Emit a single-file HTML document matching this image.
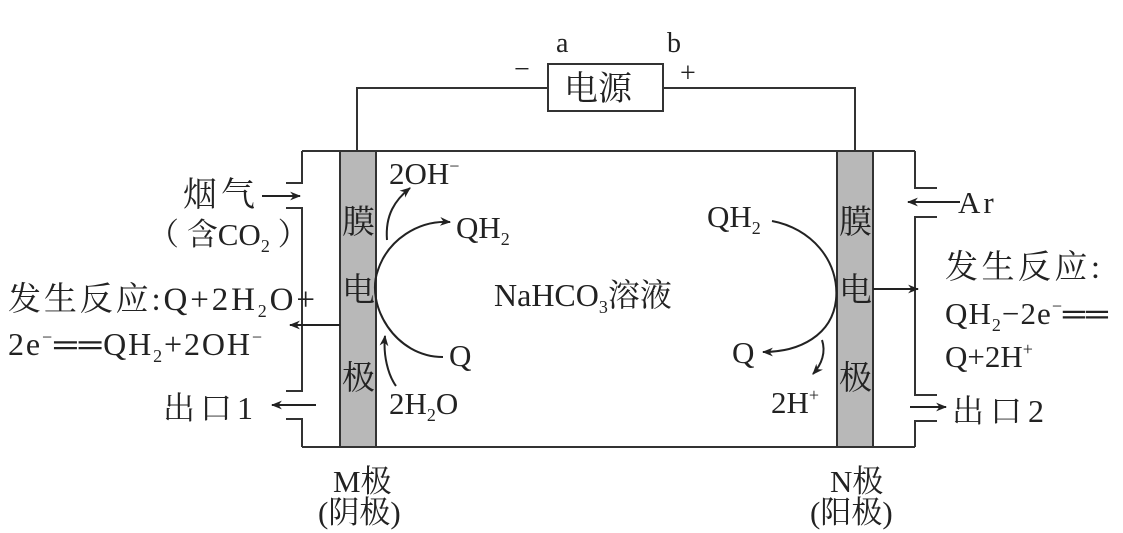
<!DOCTYPE html>
<html><head><meta charset="utf-8"><style>
html,body{margin:0;padding:0;background:#fff;}
svg{display:block;}
text{font-family:"Liberation Serif","Noto Serif CJK SC",serif;fill:#222;}
</style></head><body>
<svg width="1123" height="533" viewBox="0 0 1123 533" xmlns="http://www.w3.org/2000/svg">
<defs>
<marker id="ar" viewBox="0 0 10 10" refX="9" refY="5" markerWidth="11" markerHeight="11" orient="auto" markerUnits="userSpaceOnUse"><path d="M0,1 L10,5 L0,9 L3,5 z" fill="#222"/></marker>
</defs>
<g stroke="#333" stroke-width="2" fill="none">
<rect x="548" y="64" width="115" height="47"/>
<polyline points="357,151 357,88 548,88"/>
<polyline points="663,88 855,88 855,151"/>
<line x1="302" y1="151" x2="915" y2="151"/>
<line x1="302" y1="447" x2="915" y2="447"/>
<polyline points="286,183 302,183 302,151"/>
<polyline points="286,208 302,208 302,391 286,391"/>
<polyline points="286,419 302,419 302,447"/>
<polyline points="937,188 915,188 915,151"/>
<polyline points="937,217 915,217 915,395 937,395"/>
<polyline points="937,421 915,421 915,447"/>
</g>
<rect x="340" y="151" width="36" height="296" fill="#b8b8b8" stroke="#333" stroke-width="2"/>
<rect x="837" y="151" width="36" height="296" fill="#b8b8b8" stroke="#333" stroke-width="2"/>
<g stroke="#222" stroke-width="2" fill="none">
<line x1="262" y1="196" x2="300" y2="196" marker-end="url(#ar)"/>
<line x1="340" y1="325" x2="290" y2="325" marker-end="url(#ar)"/>
<line x1="316" y1="405" x2="272" y2="405" marker-end="url(#ar)"/>
<line x1="960" y1="202" x2="908" y2="202" marker-end="url(#ar)"/>
<line x1="873" y1="289" x2="918" y2="289" marker-end="url(#ar)"/>
<line x1="910" y1="407" x2="946" y2="407" marker-end="url(#ar)"/>
<path d="M443,357 C395,357 365,305 378,270 C388,240 418,220 450,222" marker-end="url(#ar)"/>
<path d="M387,240 C385,215 395,200 410,188" marker-end="url(#ar)"/>
<path d="M396,386 C388,375 383,355 385,336" marker-end="url(#ar)"/>
<path d="M772,221 C810,228 840,260 836,300 C832,335 800,352 763,352" marker-end="url(#ar)"/>
<path d="M822,340 C826,352 822,364 813,374" marker-end="url(#ar)"/>
</g>
<g font-size="31">
<text x="556" y="52" font-size="28">a</text>
<text x="667" y="52" font-size="28">b</text>
<text x="514" y="78" font-size="28">−</text>
<text x="680" y="82" font-size="28">+</text>
<text x="564" y="100" font-size="34">电源</text>
<text x="342" y="233" font-size="33">膜</text>
<text x="342" y="301" font-size="33">电</text>
<text x="342" y="389" font-size="33">极</text>
<text x="839" y="233" font-size="33">膜</text>
<text x="839" y="301" font-size="33">电</text>
<text x="839" y="389" font-size="33">极</text>
<text x="183" y="206" font-size="34" textLength="72" lengthAdjust="spacing">烟气</text>
<text x="148" y="245">（ 含CO<tspan font-size="18" dy="7">2</tspan><tspan dy="-7"> ）</tspan></text>
<text x="8" y="310" font-size="33" textLength="307" lengthAdjust="spacing">发生反应:Q+2H<tspan font-size="18" dy="7">2</tspan><tspan dy="-7">O+</tspan></text>
<text x="8" y="355" font-size="32" textLength="254" lengthAdjust="spacing">2e<tspan font-size="18" dy="-12">−</tspan><tspan dy="12">══QH</tspan><tspan font-size="18" dy="7">2</tspan><tspan dy="-7">+2OH</tspan><tspan font-size="18" dy="-12">−</tspan></text>
<text x="163" y="419" font-size="32" textLength="90" lengthAdjust="spacing">出口1</text>
<text x="389" y="184">2OH<tspan font-size="18" dy="-12">−</tspan></text>
<text x="456" y="238">QH<tspan font-size="18" dy="7">2</tspan></text>
<text x="494" y="306" font-size="32">NaHCO<tspan font-size="18" dy="7">3</tspan><tspan dy="-7">溶液</tspan></text>
<text x="449" y="366">Q</text>
<text x="389" y="414">2H<tspan font-size="18" dy="7">2</tspan><tspan dy="-7">O</tspan></text>
<text x="707" y="227">QH<tspan font-size="18" dy="7">2</tspan></text>
<text x="732" y="363">Q</text>
<text x="771" y="413">2H<tspan font-size="18" dy="-12">+</tspan></text>
<text x="958" y="213" letter-spacing="3">Ar</text>
<text x="945" y="278" font-size="33" textLength="155" lengthAdjust="spacing">发生反应:</text>
<text x="945" y="324" textLength="163" lengthAdjust="spacing">QH<tspan font-size="18" dy="7">2</tspan><tspan dy="-7">−2e</tspan><tspan font-size="18" dy="-12">−</tspan><tspan dy="12">══</tspan></text>
<text x="945" y="367">Q+2H<tspan font-size="18" dy="-12">+</tspan></text>
<text x="952" y="422" font-size="32" textLength="92" lengthAdjust="spacing">出口2</text>
<text x="333" y="492">M极</text>
<text x="318" y="523">(阴极)</text>
<text x="830" y="492">N极</text>
<text x="810" y="523">(阳极)</text>
</g>
</svg>
</body></html>
